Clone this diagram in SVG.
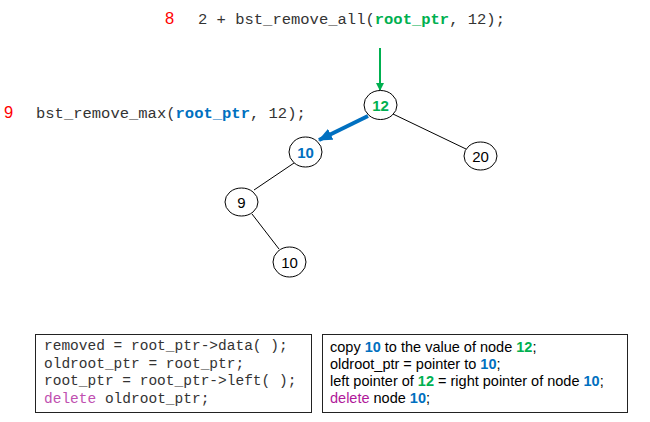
<svg xmlns="http://www.w3.org/2000/svg" width="650" height="422" viewBox="0 0 650 422">
<style>
.mono{font-family:"Liberation Mono","Courier New",monospace;fill:#333;}
.sans{font-family:"Liberation Sans",Arial,sans-serif;fill:#000;}
.num{font-family:"Liberation Sans",Arial,sans-serif;fill:#f00;font-size:16.5px;}
.node ellipse{fill:#fff;stroke:#000;stroke-width:1;}
.node text{font-family:"Liberation Sans",Arial,sans-serif;font-size:15px;text-anchor:middle;fill:#000;}
.g,.node text.g{fill:#00b050;font-weight:bold;}
.b,.node text.b{fill:#0070c0;font-weight:bold;}
.edge{stroke:#000;stroke-width:1;fill:none;}
.box{fill:#fff;stroke:#222;stroke-width:1;}
</style>
<defs>
<marker id="ag" markerWidth="8" markerHeight="8" refX="7" refY="4" orient="auto" markerUnits="userSpaceOnUse"><path d="M0,0 L8,4 L0,8 Z" fill="#00b050"/></marker>
<marker id="ab" markerWidth="14" markerHeight="12" refX="13" refY="6" orient="auto" markerUnits="userSpaceOnUse"><path d="M0,0 L14,6 L0,12 Z" fill="#0070c0"/></marker>
</defs>

<g id="labels">
<text class="num" x="165" y="24">8</text>
<text class="mono" x="198" y="24" font-size="15.5">2 + bst_remove_all(<tspan class="g">root_ptr</tspan>, 12);</text>
<text class="num" x="4" y="118">9</text>
<text class="mono" x="36" y="118" font-size="15.5">bst_remove_max(<tspan class="b">root_ptr</tspan>, 12);</text>
</g>

<g id="connectors">
<line class="edge" x1="393" y1="114" x2="466" y2="149"/>
<line class="edge" x1="294" y1="163" x2="254" y2="190"/>
<line class="edge" x1="252" y1="214" x2="279" y2="249"/>
<line x1="380" y1="48" x2="380" y2="90" stroke="#00b050" stroke-width="2" marker-end="url(#ag)"/>
<line x1="368" y1="116" x2="319" y2="140" stroke="#0070c0" stroke-width="4" marker-end="url(#ab)"/>
</g>

<g id="node12" class="node"><ellipse cx="380.5" cy="105" rx="16.5" ry="14.5"/><text x="380.5" y="111" class="g">12</text></g>
<g id="node10a" class="node"><ellipse cx="305.5" cy="152" rx="16.5" ry="15"/><text x="305.5" y="157.5" class="b">10</text></g>
<g id="node20" class="node"><ellipse cx="480.5" cy="156" rx="16.5" ry="14"/><text x="480.5" y="161.5">20</text></g>
<g id="node9" class="node"><ellipse cx="241.5" cy="202" rx="16.5" ry="14"/><text x="241.5" y="207.5">9</text></g>
<g id="node10b" class="node"><ellipse cx="289.5" cy="262" rx="16.5" ry="15"/><text x="289.5" y="267.5">10</text></g>

<g id="codebox">
<rect class="box" x="35.5" y="334.5" width="276" height="78"/>
<text class="mono" x="44" y="350" font-size="14.5">removed = root_ptr-&gt;data( );</text>
<text class="mono" x="44" y="367.5" font-size="14.5">oldroot_ptr = root_ptr;</text>
<text class="mono" x="44" y="385" font-size="14.5">root_ptr = root_ptr-&gt;left( );</text>
<text class="mono" x="44" y="402.5" font-size="14.5"><tspan fill="#c050b0">delete</tspan> oldroot_ptr;</text>
</g>

<g id="textbox">
<rect class="box" x="322.5" y="334.5" width="305" height="78"/>
<text class="sans" x="330" y="352" font-size="14.5">copy <tspan class="b">10</tspan> to the value of node <tspan class="g">12</tspan>;</text>
<text class="sans" x="330" y="369" font-size="14.5">oldroot_ptr = pointer to <tspan class="b">10</tspan>;</text>
<text class="sans" x="330" y="386" font-size="14.5">left pointer of <tspan class="g">12</tspan> = right pointer of node <tspan class="b">10</tspan>;</text>
<text class="sans" x="330" y="403" font-size="14.5"><tspan fill="#b0189a">delete</tspan> node <tspan class="b">10</tspan>;</text>
</g>
</svg>
